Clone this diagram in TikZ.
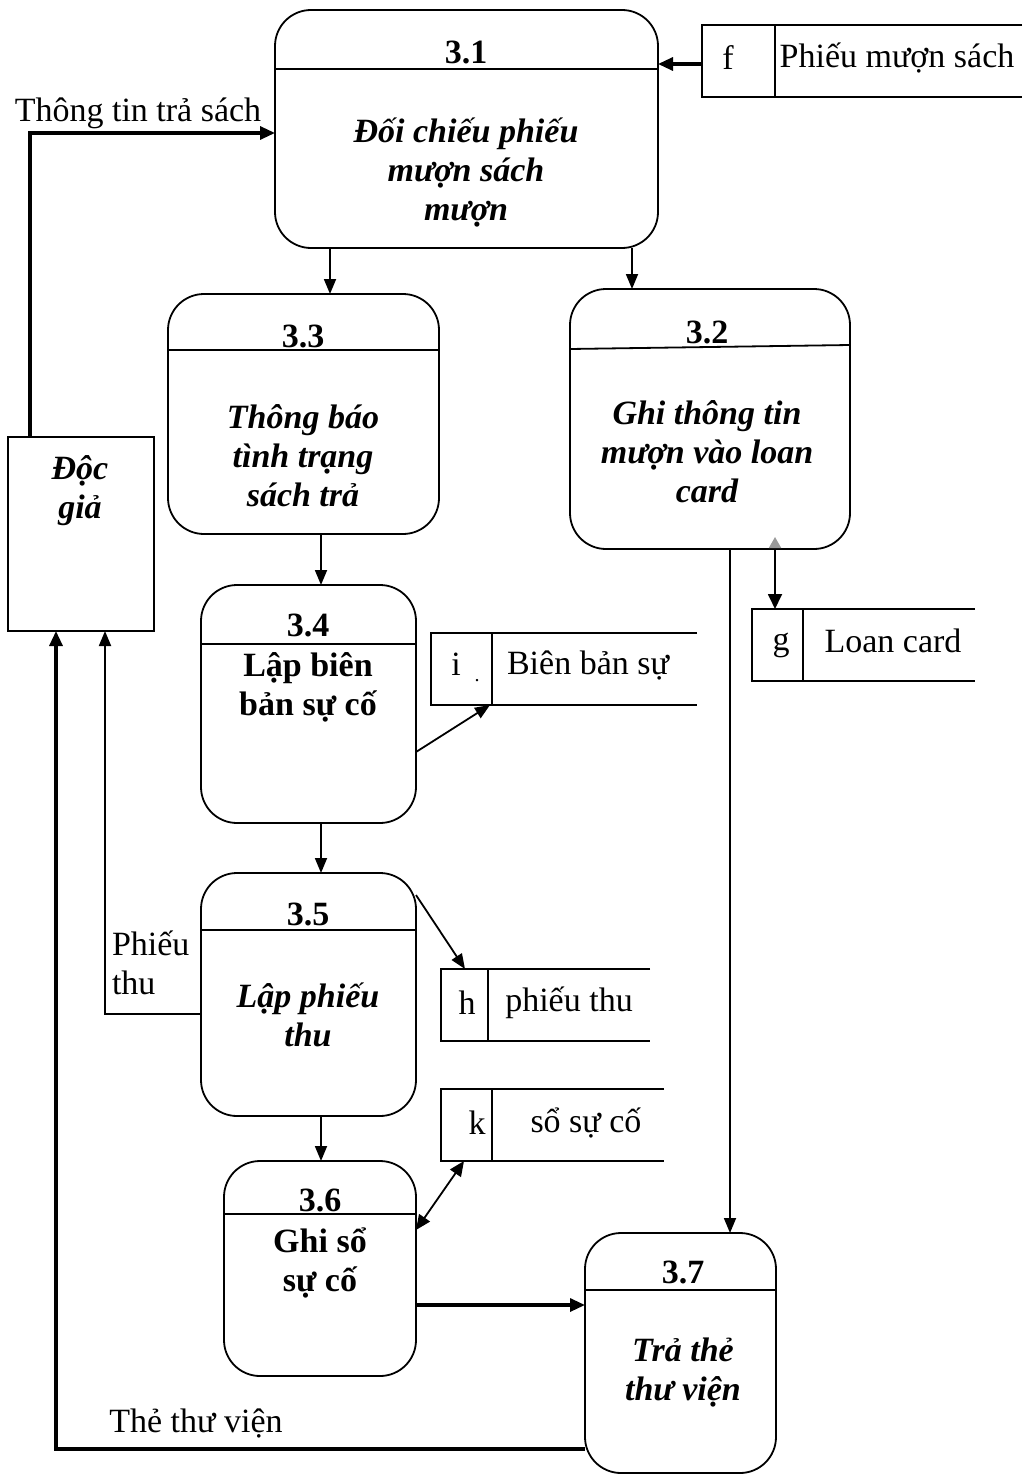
\documentclass[tikz,border=0pt]{standalone}
\usepackage{fontspec}
\setmainfont{Liberation Serif}
\usetikzlibrary{arrows.meta}
\newcommand\dfdfont{\fontsize{34}{39}\selectfont}

\begin{document}
\begin{tikzpicture}[x=1pt,y=-1pt,
  every node/.style={font=\dfdfont, inner sep=0pt, outer sep=0pt},
  proc/.style={draw, rounded corners=36pt, line width=1.8pt},
  ent/.style={draw, line width=1.8pt},
  store/.style={minimum height=72pt},
  ln/.style={line width=1.8pt},
  num/.style={font=\dfdfont\bfseries},
  ttl/.style={font=\dfdfont\bfseries\itshape, align=center},
  ttlb/.style={font=\dfdfont\bfseries, align=center},
  lbl/.style={font=\dfdfont, align=left},
  arr/.style={line width=1.8pt, -{Triangle[length=15pt,width=12pt]}},
  thickarr/.style={line width=3.2pt, -{Triangle[length=15pt,width=13pt]}},
  dblarr/.style={line width=1.8pt, {Triangle[length=15pt,width=13pt]}-{Triangle[length=15pt,width=13pt]}},
  upgray/.style={line width=1.8pt, {Triangle[length=11pt,width=12pt,color=gray!80]}-{Triangle[length=15pt,width=14pt]}}
]
\useasboundingbox (0,0) rectangle (1022,1474);

% ---------- processes ----------
\node[proc, minimum width=383pt, minimum height=238pt] (p31) at (466.5,129) {};
\draw[ln] (p31.west |- 0,69) -- (p31.east |- 0,69);
\node[num] (n31) at (466,52) {3.1};
\node[ttl] (t31) at (466,173) {Đối chiếu phiếu\\mượn sách\\mượn};

\node[proc, minimum width=271pt, minimum height=240pt] (p33) at (303.5,414) {};
\draw[ln] (p33.west |- 0,350) -- (p33.east |- 0,350);
\node[num] (n33) at (303,336) {3.3};
\node[ttl] (t33) at (303,456) {Thông báo\\tình trạng\\sách trả};

\node[proc, minimum width=280pt, minimum height=260pt] (p32) at (710,419) {};
\draw[ln] (p32.west |- 0,349) -- (p32.east |- 0,345);
\node[num] (n32) at (707,332) {3.2};
\node[ttl] (t32) at (707,452) {Ghi thông tin\\mượn vào loan\\card};

\node[proc, minimum width=215pt, minimum height=238pt] (p34) at (308.5,704) {};
\draw[ln] (p34.west |- 0,644) -- (p34.east |- 0,644);
\node[num] (n34) at (308,625) {3.4};
\node[ttlb] (t34) at (308,687) {Lập biên\\bản sự cố};

\node[proc, minimum width=215pt, minimum height=243pt] (p35) at (308.5,994.5) {};
\draw[ln] (p35.west |- 0,930) -- (p35.east |- 0,930);
\node[num] (n35) at (308,914) {3.5};
\node[ttl] (t35) at (308,1015) {Lập phiếu\\thu};

\node[proc, minimum width=192pt, minimum height=215pt] (p36) at (320,1268.5) {};
\draw[ln] (p36.west |- 0,1214) -- (p36.east |- 0,1214);
\node[num] (n36) at (320,1200) {3.6};
\node[ttlb] (t36) at (320,1263) {Ghi sổ\\sự cố};

\node[proc, minimum width=191pt, minimum height=240pt] (p37) at (680.5,1353) {};
\draw[ln] (p37.west |- 0,1290) -- (p37.east |- 0,1290);
\node[num] (n37) at (683,1272) {3.7};
\node[ttl] (t37) at (683,1373) {Trả thẻ\\thư viện};

% ---------- external entity ----------
\node[ent, minimum width=146pt, minimum height=194pt] (dg) at (81,534) {};
\node[ttl] (tdg) at (80,491) {Độc\\giả};

% ---------- data stores ----------
\node[store, minimum width=320pt] (f) at (862,61) {};
\draw[ln] (f.north east) -- (f.north west) -- (f.south west) -- (f.south east);
\draw[ln] (f.north -| 775,0) -- (f.south -| 775,0);
\node (fk) at (728,58) {f};
\node (fn) at (897,58) {Phiếu mượn sách};

\node[store, minimum width=266pt] (i) at (564,669) {};
\draw[ln] (i.north east) -- (i.north west) -- (i.south west) -- (i.south east);
\draw[ln] (i.north -| 492,0) -- (i.south -| 492,0);
\node (ik) at (456,664) {i};
\node[font=\fontsize{20}{20}\selectfont] (idot) at (477,681) {.};
\node (in) at (588,665) {Biên bản sự};

\node[store, minimum width=223pt] (g) at (863.5,645) {};
\draw[ln] (g.north east) -- (g.north west) -- (g.south west) -- (g.south east);
\draw[ln] (g.north -| 803,0) -- (g.south -| 803,0);
\node (gk) at (781,645) {g};
\node (gn) at (893,641) {Loan card};

\node[store, minimum width=209pt] (h) at (545.5,1005) {};
\draw[ln] (h.north east) -- (h.north west) -- (h.south west) -- (h.south east);
\draw[ln] (h.north -| 488,0) -- (h.south -| 488,0);
\node (hk) at (467,1003) {h};
\node (hn) at (569,1003) {phiếu thu};

\node[store, minimum width=223pt] (k) at (552.5,1125) {};
\draw[ln] (k.north east) -- (k.north west) -- (k.south west) -- (k.south east);
\draw[ln] (k.north -| 492,0) -- (k.south -| 492,0);
\node (kk) at (477,1123) {k};
\node (kn) at (586,1123) {sổ sự cố};

% ---------- flows ----------
\draw[thickarr] (f.west |- 0,64) -- (p31.east |- 0,64);
\draw[thickarr] (dg.north -| 30,0) |- (p31.west |- 0,133);
\node (lb1) at (138,113) {Thông tin trả sách};

\draw[arr] (p31.south -| 330,0) -- (p33.north -| 330,0);
\draw[arr] (p31.south -| 632,0) -- (p32.north -| 632,0);
\draw[arr] (p33.south -| 321,0) -- (p34.north -| 321,0);
\draw[arr] (p34.east |- 0,752) -- (i.south -| 490,0);
\draw[arr] (p34.south -| 321,0) -- (p35.north -| 321,0);
\draw[arr] (p35.east |- 0,895) -- (h.north -| 465,0);
\draw[arr] (p35.south -| 321,0) -- (p36.north -| 321,0);
\draw[dblarr] (p36.east |- 0,1230) -- (k.south -| 464,0);
\draw[thickarr] (p36.east |- 0,1305) -- (p37.west |- 0,1305);
\draw[arr] (p32.south -| 730,0) -- (p37.north -| 730,0);
\coordinate (gtip) at (775,537);
\draw[upgray] (gtip) -- (g.north -| 775,0);

\draw[arr] (p35.west |- 0,1014) -| (dg.south -| 105,0);
\node[lbl, anchor=west] (lb2) at (112,963) {Phiếu\\thu};

\draw[thickarr] (p37.west |- 0,1449) -| (dg.south -| 56,0);
\node (lb3) at (196,1423) {Thẻ thư viện};
\end{tikzpicture}
\end{document}
